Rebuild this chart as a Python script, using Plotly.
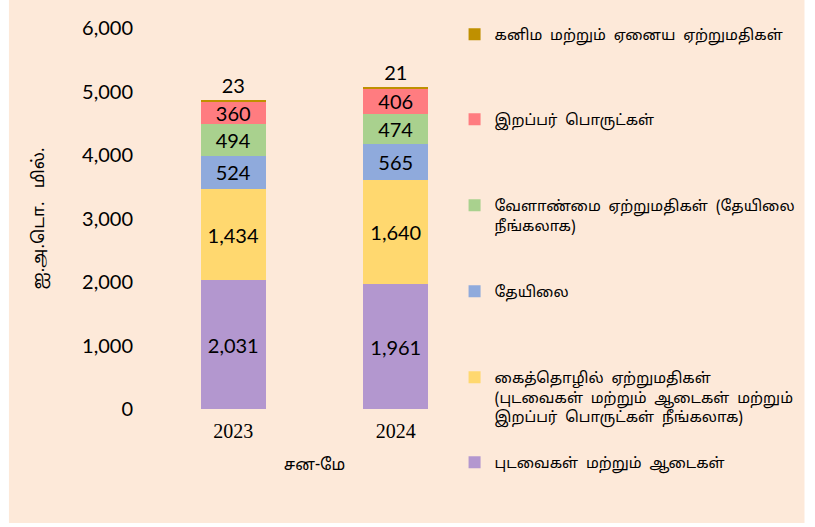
import plotly.graph_objects as go

years = ["2023", "2024"]

textiles = [2031, 1961]
industrial = [1434, 1640]
tea = [524, 565]
agri = [494, 474]
rubber = [360, 406]
minerals = [23, 21]

names = {
    "textiles": "புடவைகள்  மற்றும்  ஆடைகள்",
    "industrial": "கைத்தொழில்  ஏற்றுமதிகள்<br>(புடவைகள்  மற்றும்  ஆடைகள்  மற்றும்<br>இறப்பர்  பொருட்கள்  நீங்கலாக)",
    "tea": "தேயிலை",
    "agri": "வேளாண்மை  ஏற்றுமதிகள்  (தேயிலை<br>நீங்கலாக)",
    "rubber": "இறப்பர்  பொருட்கள்",
    "minerals": "கனிம  மற்றும்  ஏனைய  ஏற்றுமதிகள்",
}

colors = {
    "textiles": "#B397CF",
    "industrial": "#FFD86F",
    "tea": "#8FAADC",
    "agri": "#A9D18E",
    "rubber": "#FF7C80",
    "minerals": "#BF9000",
}

NUM_FONT = "Lato, 'Open Sans', sans-serif"
TAMIL_FONT = "Latha, 'Noto Sans Tamil', serif"

# plot area in pixels
W, H = 815, 527
L, T, PW, PH = 151.5, 28, 326, 381


def px_x(p):
    return (p - L) / PW


def px_y(p):
    return (T + PH - p) / PH


fig = go.Figure()

stack = [("textiles", textiles), ("industrial", industrial), ("tea", tea),
         ("agri", agri), ("rubber", rubber), ("minerals", minerals)]
legend_ids = {"minerals": "legend", "rubber": "legend2", "agri": "legend3",
              "tea": "legend4", "industrial": "legend5", "textiles": "legend6"}

for key, vals in stack:
    fig.add_trace(go.Bar(
        x=years, y=vals, name=names[key],
        marker=dict(color=colors[key], line=dict(width=0)),
        text=[f"{v:,}" for v in vals],
        textposition="outside" if key == "minerals" else "inside",
        insidetextanchor="middle",
        textfont=dict(family=NUM_FONT, size=20, color="black"),
        cliponaxis=False,
        legend=legend_ids[key],
    ))

# legend slots (text top pixel)
slot_tops = {"legend": 27, "legend2": 112, "legend3": 198,
             "legend4": 284, "legend5": 370, "legend6": 455}
legend_layout = {}
for lid, top in slot_tops.items():
    legend_layout[lid] = dict(
        x=px_x(455), xanchor="left", y=px_y(top - 9), yanchor="top",
        bgcolor="rgba(0,0,0,0)", valign="top", itemwidth=30,
        font=dict(family=TAMIL_FONT, size=15, color="black"),
    )

fig.update_layout(
    barmode="stack",
    bargap=0.6,
    width=W, height=H,
    margin=dict(l=L, r=W - L - PW, t=T, b=H - T - PH, autoexpand=False),
    paper_bgcolor="white",
    plot_bgcolor="rgba(0,0,0,0)",
    showlegend=True,
    uniformtext=dict(mode="show", minsize=20),
    **legend_layout,
)

fig.add_shape(type="rect", xref="paper", yref="paper", layer="below",
              x0=px_x(8), x1=px_x(806), y0=px_y(523), y1=px_y(0),
              fillcolor="#FDE9D9", line=dict(width=0))

fig.update_yaxes(range=[0, 6000], dtick=1000, tickformat=",",
                 showgrid=False, zeroline=False, showline=False,
                 tickfont=dict(family=NUM_FONT, size=20, color="black"),
                 ticklabelstandoff=18,
                 title=dict(text="ஐ.அ.டொ.   மில்.", standoff=33,
                            font=dict(family=TAMIL_FONT, size=17, color="black")))
fig.update_xaxes(showgrid=False, showline=False,
                 tickfont=dict(family="'Liberation Serif', 'Times New Roman', serif", size=20, color="black"),
                 ticklabelstandoff=8,
                 title=dict(text="சன-மே", standoff=17,
                            font=dict(family=TAMIL_FONT, size=16, color="black")))

fig.write_html("out.html", config={"displayModeBar": False},
               post_script="document.body.style.margin = '0px';")
